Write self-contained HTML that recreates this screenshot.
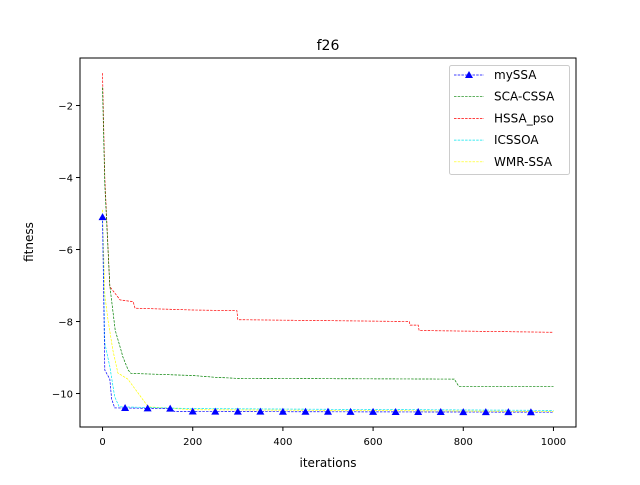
<!DOCTYPE html>
<html><head><meta charset="utf-8"><style>
body{margin:0;background:#fff}
svg text{font-family:"DejaVu Sans","Liberation Sans",sans-serif;fill:#000}
</style></head><body>
<svg id="c" width="640" height="480" viewBox="0 0 640 480">
<rect width="640" height="480" fill="#fff"/>
<text x="328" y="50" font-size="14" text-anchor="middle">f26</text>
<text x="328" y="467" font-size="12" text-anchor="middle">iterations</text>
<text x="33" y="242" font-size="12" text-anchor="middle" transform="rotate(-90 33 242)">fitness</text>
<g id="plot"></g>
<rect x="80" y="58" width="496" height="369" fill="none" stroke="#000" stroke-width="1"/>
<g id="legend"></g>
</svg>
<script>
const xTicks=[0,200,400,600,800,1000];
const yTicks=[-2,-4,-6,-8,-10];
const seriesNames=["mySSA","SCA-CSSA","HSSA_pso","ICSSOA","WMR-SSA"];
const blueX=[0,5,16,20,27,150,160,1000];
const blueY=[-5.1,-9.35,-9.6,-10.15,-10.4,-10.42,-10.5,-10.52];
const greenX=[0,5,16,28,42,45,57,63,200,250,300,780,790,1000];
const greenY=[-1.5,-4.2,-7.0,-8.24,-8.84,-8.98,-9.35,-9.44,-9.5,-9.55,-9.58,-9.6,-9.8,-9.8];
const redX=[0,5,16,39,68,72,200,298,300,680,682,700,702,1000];
const redY=[-1.1,-4.0,-7.03,-7.4,-7.45,-7.63,-7.68,-7.7,-7.95,-8.0,-8.1,-8.1,-8.25,-8.3];
const cyanX=[0,5,16,27,37,200,1000];
const cyanY=[-5.0,-8.6,-9.25,-10.09,-10.37,-10.42,-10.47];
const yellowX=[0,5,12,23,34,56,79,101,200,1000];
const yellowY=[-4.9,-7.26,-7.96,-8.8,-9.43,-9.6,-9.99,-10.37,-10.45,-10.5];
const markerX=[0,50,100,150,200,250,300,350,400,450,500,550,600,650,700,750,800,850,900,950];

const NS="http://www.w3.org/2000/svg";
const X0=80,X1=576,Y0=58,Y1=427,xmin=-50,xmax=1050,ymin=-10.93,ymax=-0.68;
const sx=v=>X0+(v-xmin)/(xmax-xmin)*(X1-X0);
const sy=v=>Y1-(v-ymin)/(ymax-ymin)*(Y1-Y0);
const svg=document.getElementById('c'),plot=document.getElementById('plot'),leg=document.getElementById('legend');
function mk(t,a,p){const e=document.createElementNS(NS,t);for(const k in a)e.setAttribute(k,a[k]);(p||svg).appendChild(e);return e;}
xTicks.forEach(t=>{
 const l=mk('line',{x1:sx(t),x2:sx(t),y1:Y1,y2:Y1+4,stroke:'#000'});
 
 
 const tx=mk('text',{x:sx(t),y:Y1+18,'font-size':10,'text-anchor':'middle'});tx.textContent=t;
 
 
});
yTicks.forEach(t=>{
 const l=mk('line',{x1:X0-4,x2:X0,y1:sy(t),y2:sy(t),stroke:'#000'});
 
 
 const tx=mk('text',{x:X0-7,y:sy(t)+4,'font-size':10,'text-anchor':'end'});tx.textContent='\u2212'+Math.abs(t);
 
 
});
function interp(xs,ys,x){for(let i=0;i<xs.length-1;i++){if(x>=xs[i]&&x<=xs[i+1]){const f=(x-xs[i])/(xs[i+1]-xs[i]);return ys[i]+f*(ys[i+1]-ys[i]);}}return ys[ys.length-1];}
function path(xs,ys,color,name){
 let d='';xs.forEach((x,i)=>{d+=(i?'L':'M')+sx(x).toFixed(1)+','+sy(ys[i]).toFixed(1)+' ';});
 const p=mk('path',{d:d,fill:'none',stroke:color,'stroke-width':0.7,'stroke-dasharray':'2.5,1.2'},plot);
 
 
}
path(yellowX,yellowY,'#ffff00','series-wmr-ssa');
path(cyanX,cyanY,'#00e5ee','series-icssoa');
path(redX,redY,'#ff0000','series-hssa-pso');
path(greenX,greenY,'#008000','series-sca-cssa');
path(blueX,blueY,'#0000ff','series-myssa');
markerX.forEach(x=>{
 const cx=sx(x),cy=sy(interp(blueX,blueY,x));
 const m=mk('polygon',{points:`${cx},${cy-4} ${cx-4},${cy+3} ${cx+4},${cy+3}`,fill:'#0000ff'},plot);
 
 
});
const lb=mk('rect',{x:449.5,y:65.5,width:120,height:109,rx:2,fill:'#fff','fill-opacity':0.8,stroke:'#ccc'},leg);


const lc=['#0000ff','#008000','#ff0000','#00e5ee','#ffff00'];
seriesNames.forEach((n,i)=>{
 const y=75+i*21.7;
 const l=mk('line',{x1:454,x2:484,y1:y,y2:y,stroke:lc[i],'stroke-width':0.7,'stroke-dasharray':'2.5,1.2'},leg);
 
 
 if(i===0){const m=mk('polygon',{points:`469,${y-4} 465,${y+3} 473,${y+3}`,fill:'#0000ff'},leg);
  
  }
 const t=mk('text',{x:494,y:y+4,'font-size':12},leg);t.textContent=n;
 
 
});
</script>
</body></html>
